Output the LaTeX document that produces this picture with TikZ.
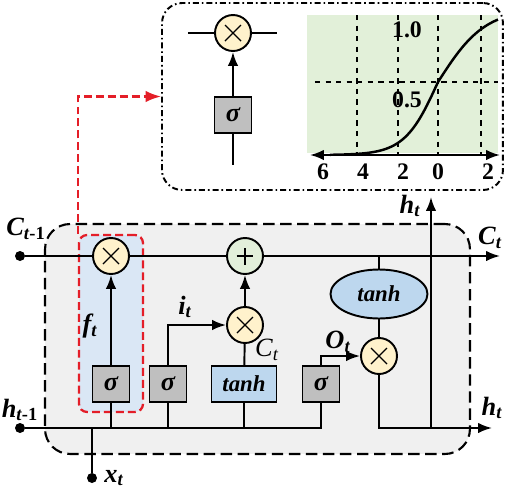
\documentclass[tikz,border=0pt]{standalone}
\usepackage{fontspec}
\setmainfont{Liberation Serif}
\usetikzlibrary{arrows.meta,shapes.geometric}

\definecolor{cellgray}{RGB}{240,240,240}
\definecolor{sigfill}{RGB}{191,191,191}
\definecolor{tanhfill}{RGB}{189,215,238}
\definecolor{mulfill}{RGB}{255,242,204}
\definecolor{addfill}{RGB}{226,239,218}
\definecolor{gatefill}{RGB}{218,231,245}
\definecolor{plotfill}{RGB}{226,240,217}
\definecolor{gatered}{RGB}{228,30,40}

\newcommand{\lab}[2]{\textit{#1}\textsubscript{#2}}

\tikzset{
  >=Latex,
  wire/.style={line width=1.1pt},
  sigbox/.style={draw, line width=1.1pt, fill=sigfill, minimum width=0.74cm, minimum height=0.72cm, inner sep=0pt, font=\bfseries\itshape\fontsize{15}{15}\selectfont},
  tanhbox/.style={draw, line width=1.1pt, fill=tanhfill, minimum width=1.3cm, minimum height=0.72cm, inner sep=0pt, font=\bfseries\itshape\fontsize{13}{13}\selectfont},
  tanhell/.style={draw, ellipse, line width=1.1pt, fill=tanhfill, minimum width=1.94cm, minimum height=0.98cm, inner sep=0pt, font=\bfseries\itshape\fontsize{13}{13}\selectfont},
  mulnode/.style={draw, circle, line width=1.1pt, fill=mulfill, minimum size=0.72cm, inner sep=0pt,
    path picture={\draw[line width=0.8pt]
      ([shift={(-0.16cm,-0.16cm)}]path picture bounding box.center) -- ++(0.32cm,0.32cm)
      ([shift={(-0.16cm,0.16cm)}]path picture bounding box.center) -- ++(0.32cm,-0.32cm);}},
  addnode/.style={draw, circle, line width=1.1pt, fill=addfill, minimum size=0.72cm, inner sep=0pt,
    path picture={\draw[line width=0.8pt]
      ([xshift=-0.17cm]path picture bounding box.center) -- ++(0.34cm,0)
      ([yshift=-0.17cm]path picture bounding box.center) -- ++(0,0.34cm);}},
  inpoint/.style={circle, fill=black, minimum size=0.2cm, inner sep=0pt},
  lab/.style={inner sep=0pt, font=\bfseries\itshape\fontsize{15}{16}\selectfont},
  plotlab/.style={inner sep=0pt, font=\bfseries\fontsize{13.5}{14}\selectfont}
}

\begin{document}
\begin{tikzpicture}[x=0.02cm, y=-0.02cm]
    \useasboundingbox (0,0) rectangle (512,491);

    % cell
    \node[draw, dash pattern=on 6.5pt off 3.2pt, line width=1.2pt, fill=cellgray, rounded corners=0.5cm,
      minimum width=8.5cm, minimum height=4.6cm] (cell) at (257.5,339) {};

    % zoom window
    \node[draw, dash pattern=on 3.4pt off 1.7pt on 0.9pt off 1.7pt, line width=1.1pt, rounded corners=0.4cm,
      minimum width=6.82cm, minimum height=3.74cm] (zoombox) at (332.5,96.5) {};

    % forget gate
    \node[draw=gatered, dash pattern=on 4.5pt off 2.3pt, line width=1.3pt, fill=gatefill, rounded corners=0.16cm,
      minimum width=1.28cm, minimum height=3.54cm] (fgate) at (111,323.5) {};

    % inputs and outputs
    \node[inpoint] (cin) at (20,256) {};
    \node[inpoint] (hin) at (20,428) {};
    \node[inpoint] (xin) at (92,478) {};
    \coordinate (cout) at (500,256);
    \coordinate (hout) at (492,428);
    \coordinate (hjoin) at (431,428);
    \coordinate (htop) at (431,197);

    % gates
    \node[mulnode] (fmul) at (111,256) {};
    \node[addnode] (cadd) at (245,256) {};
    \node[mulnode] (imul) at (245,325) {};
    \node[mulnode] (omul) at (379,356) {};
    \node[sigbox] (fsig) at (111,384) {σ};
    \node[sigbox] (isig) at (168,384) {σ};
    \node[tanhbox] (ctanh) at (244,384) {tanh};
    \node[sigbox] (osig) at (321,384) {σ};
    \node[tanhell] (htanh) at (379,294) {tanh};

    % cell state
    \draw[wire] (cin) -- (fmul) -- (cadd);
    \draw[wire,->] (cadd) -- (cout);
    \draw[wire] (htanh) -- (htanh |- cin);
    \draw[wire] (htanh) -- (omul);

    % hidden state in
    \draw[wire] (hin) -- (osig.south |- hin) -- (osig.south);
    \draw[wire] (xin) -- (xin |- hin);
    \draw[wire] (fsig) -- (fsig |- hin);
    \draw[wire] (isig) -- (isig |- hin);
    \draw[wire] (ctanh) -- (ctanh |- hin);

    % gate outputs
    \draw[wire,->] (fsig) -- (fmul);
    \draw[wire,->] (isig) |- (imul);
    \draw[wire] (ctanh) -- (imul);
    \draw[wire,->] (imul) -- (cadd);
    \draw[wire,->] (osig) |- (omul);

    % hidden state out
    \draw[wire,->] (omul) |- (hout);
    \draw[wire,->] (hjoin) -- (htop);

    % link to zoom
    \draw[gatered, dash pattern=on 4.5pt off 2.3pt, line width=1.3pt, ->] (fgate.north west) |- (zoombox.west);

    % zoomed gate
    \node[mulnode] (zmul) at (233,33) {};
    \node[sigbox] (zsig) at (233,115) {σ};
    \coordinate (zleft) at (188,33);
    \coordinate (zright) at (277,33);
    \coordinate (zin) at (233,165);
    \draw[wire] (zleft) -- (zmul) -- (zright);
    \draw[wire,->] (zsig) -- (zmul);
    \draw[wire] (zsig) -- (zin);

    % sigmoid plot
    \fill[plotfill] (307,15) rectangle (498,153);
    \foreach \gx in {357,398,438,481}
      \draw[dashed, line width=0.8pt] (\gx,15) -- (\gx,155);
    \draw[dashed, line width=0.8pt] (315,82) -- (498,82);
    \draw[wire,<->] (310,155) -- (500,155);
    \draw[line width=1.4pt] plot[domain=330:438, samples=50] (\x, {155-146/(1+exp(-1.2*(\x-438)/20))});
    \draw[line width=1.4pt] plot[domain=438:498, samples=30] (\x, {155-146/(1+exp(-0.85*(\x-438)/20))});
    \node[plotlab] (one) at (407,30) {1.0};
    \node[plotlab] (half) at (407,100) {0.5};
    \node[plotlab] (xa) at (323,172) {6};
    \node[plotlab] (xb) at (363,172) {4};
    \node[plotlab] (xc) at (403,172) {2};
    \node[plotlab] (xd) at (438,172) {0};
    \node[plotlab] (xe) at (488,172) {2};

    % labels
    \node[lab] (lcin) at (26,229) {\lab{C}{\textit{t}\textup{-1}}};
    \node[lab] (lhin) at (20,410) {\lab{h}{\textit{t}\textup{-1}}};
    \node[lab, anchor=west] (lxin) at (104,478) {\lab{x}{t}};
    \node[lab] (lf) at (90,326) {\lab{f}{t}};
    \node[lab] (li) at (185,307) {\lab{i}{t}};
    \node[inner sep=0pt, font=\itshape\fontsize{15}{16}\selectfont] (lct) at (267,350) {\lab{C}{t}};
    \node[lab] (lo) at (338,342) {\lab{O}{t}};
    \node[lab] (lhtop) at (410,206) {\lab{h}{t}};
    \node[lab] (lcout) at (490,238) {\lab{C}{t}};
    \node[lab] (lhout) at (492,408) {\lab{h}{t}};

\end{tikzpicture}
\end{document}
